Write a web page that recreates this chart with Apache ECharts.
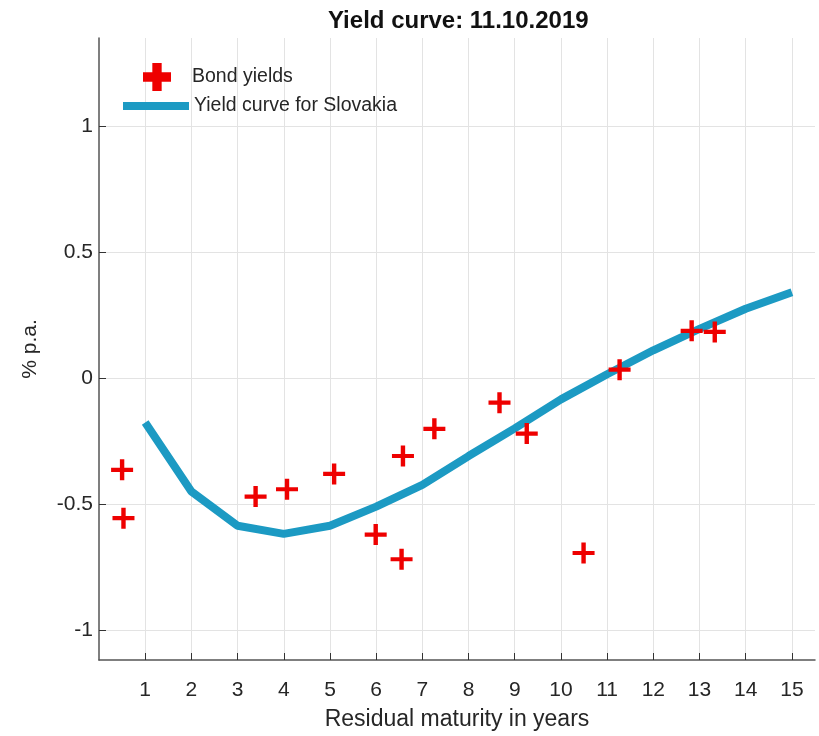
<!DOCTYPE html>
<html>
<head>
<meta charset="utf-8">
<title>Yield curve: 11.10.2019</title>
<script src="https://cdn.jsdelivr.net/npm/echarts@6/dist/echarts.min.js"></script>
<style>
  html, body { margin: 0; padding: 0; background: #fff; }
  #chart { width: 819px; height: 736px; }
</style>
</head>
<body>
<div id="chart"></div>
<script>
// tick values
const maturityTicks = [1, 2, 3, 4, 5, 6, 7, 8, 9, 10, 11, 12, 13, 14, 15];
const yieldTicks = [-1, -0.5, 0, 0.5, 1];

// fitted curve
const curveMaturity = [1, 2, 3, 4, 5, 6, 7, 8, 9, 10, 11, 12, 13, 14, 15];
const curveYield = [-0.177, -0.451, -0.587, -0.619, -0.587, -0.511, -0.425, -0.31, -0.2, -0.085, 0.015, 0.11, 0.195, 0.275, 0.34];

// individual bonds
const bondMaturity = [0.50, 0.53, 3.39, 4.07, 5.09, 5.99, 6.58, 6.55, 7.26, 8.67, 9.26, 10.49, 11.27, 12.83, 13.33];
const bondYield = [-0.365, -0.557, -0.471, -0.442, -0.381, -0.622, -0.31, -0.72, -0.202, -0.098, -0.221, -0.695, 0.033, 0.187, 0.183];

const plusPath = 'path://M8,0H12V8H20V12H12V20H8V12H0V8H8Z';
const plusLegendPath = 'path://M6,0H12V6H18V12H12V18H6V12H0V6H6Z';
const fontFamily = '"Liberation Sans", Arial, sans-serif';

const chart = echarts.init(document.getElementById('chart'));

const option = {
  backgroundColor: '#fff',
  animation: false,
  title: {
    text: 'Yield curve: 11.10.2019',
    left: 323,
    top: 4,
    textStyle: {
      fontFamily: fontFamily,
      fontSize: 24,
      fontWeight: 'bold',
      color: '#111',
    },
  },
  legend: [
    {
      data: [{ name: 'Bond yields', icon: plusLegendPath }],
      left: 138,
      top: 58,
      itemWidth: 28,
      itemHeight: 28,
      symbolKeepAspect: true,
      itemStyle: { color: '#ee0000', opacity: 1 },
      textStyle: { fontFamily: fontFamily, fontSize: 19.5, color: '#262626', padding: [0, 0, 0, 16] },
    },
    {
      data: [{ name: 'Yield curve for Slovakia', icon: 'rect' }],
      left: 118,
      top: 91,
      itemWidth: 66,
      itemHeight: 8,
      textStyle: { fontFamily: fontFamily, fontSize: 19.5, color: '#262626' },
    },
  ],
  grid: {
    left: 99,
    right: 4,
    top: 38,
    bottom: 76,
  },
  xAxis: {
    type: 'value',
    min: 0,
    max: 15.5,
    name: 'Residual maturity in years',
    nameLocation: 'middle',
    nameGap: 48,
    nameTextStyle: { fontFamily: fontFamily, fontSize: 23, color: '#262626' },
    axisLine: { show: true, onZero: false, lineStyle: { color: '#555', width: 1.5 } },
    axisTick: {
      show: true,
      inside: true,
      length: 7,
      customValues: maturityTicks,
      lineStyle: { color: '#333', width: 1 },
    },
    axisLabel: {
      customValues: maturityTicks,
      margin: 20,
      fontFamily: fontFamily,
      fontSize: 21,
      color: '#262626',
    },
    splitLine: { show: true, lineStyle: { color: '#e3e3e3', width: 1 } },
  },
  yAxis: {
    type: 'value',
    min: -1.12,
    max: 1.35,
    name: '% p.a.',
    nameLocation: 'middle',
    nameGap: 58,
    nameTextStyle: { fontFamily: fontFamily, fontSize: 21, color: '#262626' },
    axisLine: { show: true, onZero: false, lineStyle: { color: '#555', width: 1.5 } },
    axisTick: {
      show: true,
      inside: true,
      length: 7,
      customValues: yieldTicks,
      lineStyle: { color: '#333', width: 1 },
    },
    axisLabel: {
      customValues: yieldTicks,
      margin: 6,
      fontFamily: fontFamily,
      fontSize: 21,
      color: '#262626',
    },
    splitLine: { show: true, lineStyle: { color: '#e3e3e3', width: 1 } },
  },
  series: [
    {
      name: 'Yield curve for Slovakia',
      type: 'line',
      data: curveMaturity.map((m, i) => [m, curveYield[i]]),
      showSymbol: false,
      symbol: 'none',
      lineStyle: { color: '#1c9ac3', width: 8 },
      itemStyle: { color: '#1c9ac3' },
      z: 2,
    },
    {
      name: 'Bond yields',
      type: 'scatter',
      data: bondMaturity.map((m, i) => [m, bondYield[i]]),
      symbol: plusPath,
      symbolSize: [22, 21],
      itemStyle: { color: '#ee0000', opacity: 1 },
      z: 3,
    },
  ],
};

chart.setOption(option);
</script>
</body>
</html>
